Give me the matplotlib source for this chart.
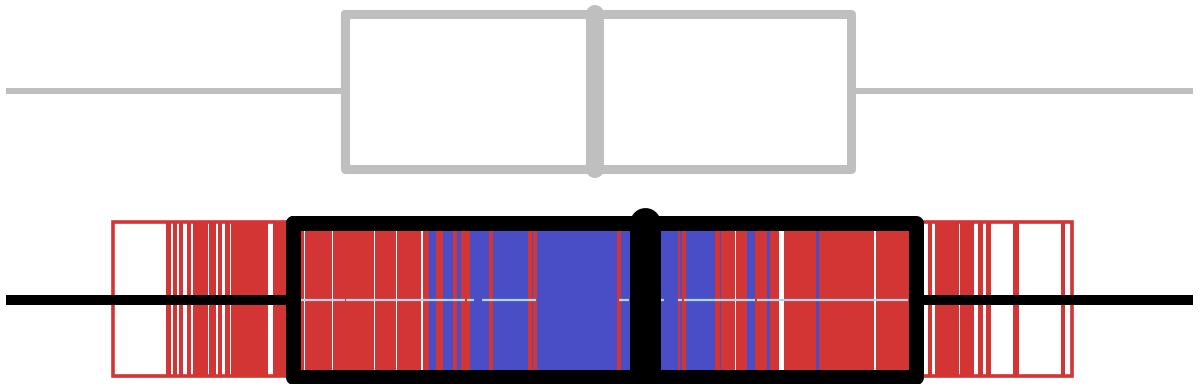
import matplotlib
matplotlib.use("Agg")
import matplotlib.pyplot as plt

# ---- data (values on a 0-1200 scale) ----
# box statistics: whisker low, q1, median, q3, whisker high
top_stats = dict(whislo=6, q1=344.5, med=595, q3=851, whishi=1193)
bottom_stats = dict(whislo=6, q1=292.5, med=644.5, q3=915.5, whishi=1193)

# barcode strips: start, end, kind ('r' red, 'b' blue)
strip_start = [166, 173, 179, 187, 193, 209, 218, 225, 231, 273,
               300, 305, 333, 375, 397, 423, 429, 436, 443, 453,
               457, 461, 470, 489, 493, 528, 532, 533, 537, 617,
               621, 678, 680, 682, 686, 715, 720, 721, 736, 747,
               755, 767, 770, 784, 816, 819, 876,
               928, 935, 960, 978, 986, 1013, 1061]
strip_end = [171, 177, 183, 191, 208, 216, 222, 230, 268, 300,
             304, 332, 374, 396, 421, 429, 436, 443, 453, 457,
             461, 470, 489, 493, 528, 532, 533, 537, 617, 621,
             678, 680, 682, 686, 715, 720, 721, 735, 747, 755,
             767, 770, 779, 816, 819, 874, 923,
             932, 959, 974, 983, 991, 1019, 1065]
strip_kind = (['r'] * 16
              + ['b', 'r', 'b', 'r', 'b', 'r', 'b', 'r',
                 'b', 'r', 'b', 'r', 'b', 'r', 'b']
              + ['r', 'b', 'r', 'b', 'r', 'b', 'r', 'r',
                 'b', 'r', 'b', 'r', 'r', 'b', 'r', 'r']
              + ['r'] * 7)

# light line segments through the middle
line_start = [300, 346, 467, 482, 619, 660, 678, 684, 757]
line_end = [345, 465, 474, 536, 629, 664, 682, 755, 908]

range_lo, range_hi = 112.5, 1072

RED = "#d33434"
BLUE = "#4a4ec6"
LIGHT = "#add8e6"
GREY = "#bfbfbf"

fig = plt.figure(figsize=(12, 3.9), dpi=100)
ax = fig.add_axes([0, 6 / 390, 1, 384 / 390])
ax.set_xlim(0, 1200)
ax.set_ylim(384, 0)
ax.axis("off")

band_lo, band_hi = 222.3, 376.0
colors = [RED if k == 'r' else BLUE for k in strip_kind]
widths = [e - s for s, e in zip(strip_start, strip_end)]
ax.bar(strip_start, band_hi - band_lo, width=widths, bottom=band_lo,
       align="edge", color=colors, linewidth=0, zorder=1)
ax.bar([range_lo], band_hi - band_lo, width=range_hi - range_lo,
       bottom=band_lo, align="edge", fill=False, edgecolor=RED,
       linewidth=2.6, zorder=2)

ax.hlines([300] * len(line_start), line_start, line_end, colors=LIGHT,
          linewidth=1.6, zorder=3)

# top grey boxplot
ax.bxp([top_stats], positions=[91], widths=[155], orientation="horizontal",
       showcaps=False, showfliers=False, manage_ticks=False,
       boxprops=dict(color=GREY, linewidth=6.5, solid_joinstyle="round",
                     solid_capstyle="round"),
       whiskerprops=dict(color=GREY, linewidth=4.3, solid_capstyle="butt"),
       medianprops=dict(color=GREY, linewidth=13, solid_capstyle="round"))

# bottom black boxplot
bp = ax.bxp([bottom_stats], positions=[299.75], widths=[154.5],
            orientation="horizontal", showcaps=False, showfliers=False,
            manage_ticks=False,
            boxprops=dict(color="black", linewidth=10.8,
                          solid_joinstyle="round", solid_capstyle="round"),
            whiskerprops=dict(color="black", linewidth=7.2,
                              solid_capstyle="butt"),
            medianprops=dict(color="black", linewidth=22.3,
                             solid_capstyle="round"))
for k in bp:
    for art in bp[k]:
        art.set_zorder(5)

fig.savefig("out.png", dpi=100)
